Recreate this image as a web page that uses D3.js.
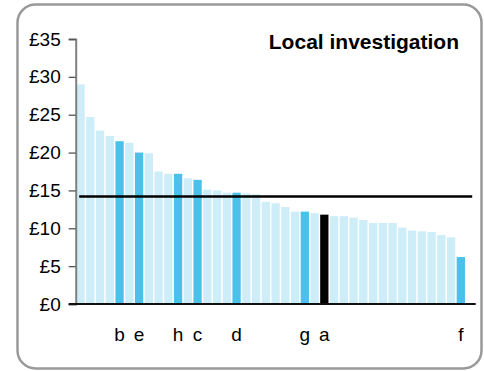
<!DOCTYPE html>
<html>
<head>
<meta charset="utf-8">
<script src="https://cdn.jsdelivr.net/npm/d3@7"></script>
<style>
  html, body { margin: 0; padding: 0; background: #fff; }
  svg { display: block; font-family: Arial, "Liberation Sans", sans-serif; }
</style>
</head>
<body>
<svg id="chart" width="484" height="371"></svg>
<script>
// ---- data ----
const labels = ["", "", "", "", "b", "", "e", "", "", "", "h", "", "c", "", "", "", "d", "", "", "",
                "", "", "", "g", "", "a", "", "", "", "", "", "", "", "", "", "", "", "", "", "f"];
const values = [29.0, 24.7, 22.9, 22.2, 21.5, 21.3, 20.0, 19.9, 17.5, 17.2, 17.2, 16.6, 16.4, 15.1, 15.0, 14.7, 14.7, 14.6, 14.5, 13.5,
                13.3, 12.8, 12.2, 12.2, 12.0, 11.8, 11.6, 11.6, 11.4, 11.1, 10.7, 10.7, 10.7, 10.1, 9.7, 9.6, 9.5, 9.1, 8.8, 6.2];
// 0 = other, 1 = comparator, 2 = local area
const highlight = [0, 0, 0, 0, 1, 0, 1, 0, 0, 0, 1, 0, 1, 0, 0, 0, 1, 0, 0, 0,
                   0, 0, 0, 1, 0, 2, 0, 0, 0, 0, 0, 0, 0, 0, 0, 0, 0, 0, 0, 1];
const average = 14.2;
const yTicks = [0, 5, 10, 15, 20, 25, 30, 35];
const title = "Local investigation";

// ---- drawing ----
const svg = d3.select("#chart");
const colors = ["#cdedf8", "#4bc1ea", "#000000"];

// frame
svg.append("rect")
  .attr("x", 17.5).attr("y", 4.5).attr("width", 464).attr("height", 364)
  .attr("rx", 18).attr("ry", 18)
  .attr("fill", "#fff").attr("stroke", "#999").attr("stroke-width", 2.5);

const x = d3.scaleBand()
  .domain(d3.range(values.length))
  .range([75.7, 465.7])
  .paddingInner(0.15)
  .paddingOuter(0.075);

const y = d3.scaleLinear().domain([0, 35]).range([304, 39]);

// bars
svg.append("g").selectAll("rect")
  .data(values)
  .join("rect")
  .attr("x", (d, i) => x(i))
  .attr("y", d => y(d))
  .attr("width", x.bandwidth())
  .attr("height", d => y(0) - y(d))
  .attr("fill", (d, i) => colors[highlight[i]]);

// y axis
const yAxis = svg.append("g")
  .attr("transform", `translate(${x.range()[0]},0)`)
  .call(d3.axisLeft(y).tickValues(yTicks).tickFormat(d => "£" + d).tickSize(7).tickPadding(8));
yAxis.select(".domain").attr("stroke", "#808080").attr("stroke-width", 2);
yAxis.selectAll(".tick line").attr("stroke", "#555").attr("stroke-width", 1.3);
yAxis.selectAll(".tick text").attr("font-size", 19).attr("fill", "#000")
  .attr("font-family", "Arial, 'Liberation Sans', sans-serif");

// x axis baseline
svg.append("line")
  .attr("x1", x.range()[0] - 7).attr("x2", x.range()[1] + 10)
  .attr("y1", y(0)).attr("y2", y(0))
  .attr("stroke", "#111").attr("stroke-width", 1.8);

// average line
svg.append("line")
  .attr("x1", x.range()[0] + 3.5).attr("x2", x.range()[1] + 6.5)
  .attr("y1", y(average)).attr("y2", y(average))
  .attr("stroke", "#000").attr("stroke-width", 2.6);

// category labels
svg.append("g").selectAll("text")
  .data(labels)
  .join("text")
  .attr("x", (d, i) => x(i) + x.bandwidth() / 2)
  .attr("y", 341)
  .attr("text-anchor", "middle")
  .attr("font-size", 19)
  .attr("fill", "#000")
  .text(d => d);

// title
svg.append("text")
  .attr("x", 459).attr("y", 49)
  .attr("text-anchor", "end")
  .attr("font-size", 21)
  .attr("font-weight", "bold")
  .attr("fill", "#000")
  .text(title);
</script>
</body>
</html>
